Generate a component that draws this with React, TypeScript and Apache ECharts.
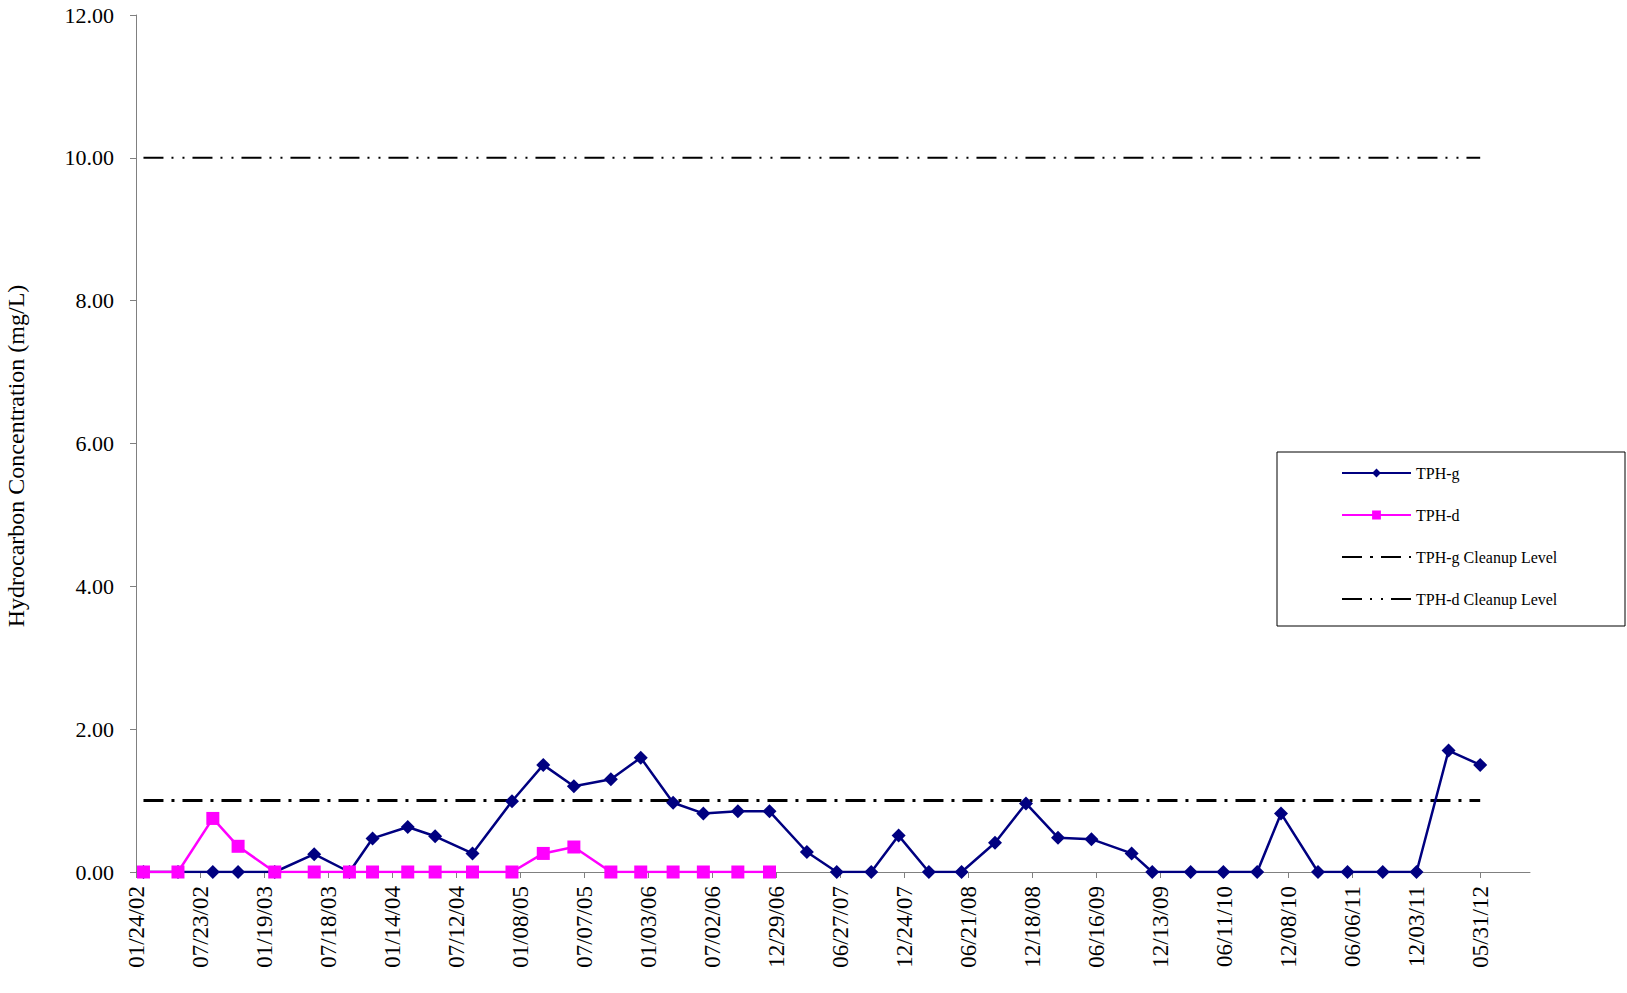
import React, { useEffect, useRef } from "react";
import * as echarts from "echarts";

// Sampling dates (MM/DD/YY)
const sampleDates = [
  "02/14/02", "05/22/02", "08/28/02", "11/07/02", "02/18/03", "06/09/03", "09/16/03",
  "11/20/03", "02/27/04", "05/14/04", "08/27/04", "12/16/04", "03/14/05", "06/08/05",
  "09/20/05", "12/13/05", "03/14/06", "06/07/06", "09/12/06", "12/10/06", "03/25/07",
  "06/17/07", "09/22/07", "12/08/07", "03/02/08", "06/02/08", "09/04/08", "11/30/08",
  "02/28/09", "06/02/09", "09/23/09", "11/20/09", "03/08/10", "06/08/10", "09/11/10",
  "11/17/10", "03/01/11", "05/23/11", "08/30/11", "12/03/11", "03/02/12", "05/30/12",
];

// TPH-g (mg/L), one per sampling date
const tphG = [
  0, 0, 0, 0, 0, 0.25, 0, 0.47, 0.63, 0.5, 0.26, 0.99, 1.5, 1.2,
  1.3, 1.6, 0.97, 0.82, 0.85, 0.85, 0.28, 0, 0, 0.51, 0, 0, 0.41, 0.96,
  0.48, 0.46, 0.26, 0, 0, 0, 0, 0.82, 0, 0, 0, 0, 1.7, 1.5,
];

// TPH-d (mg/L), first 20 sampling dates only
const tphD = [
  0, 0, 0.75, 0.36, 0, 0, 0, 0, 0, 0, 0, 0, 0.26, 0.35, 0, 0, 0, 0, 0, 0,
];

const tphGCleanupLevel = 1.0;
const tphDCleanupLevel = 10.0;

// X-axis tick labels (every 180 days)
const xTickLabels = [
  "01/24/02", "07/23/02", "01/19/03", "07/18/03", "01/14/04", "07/12/04", "01/08/05",
  "07/07/05", "01/03/06", "07/02/06", "12/29/06", "06/27/07", "12/24/07", "06/21/08",
  "12/18/08", "06/16/09", "12/13/09", "06/11/10", "12/08/10", "06/06/11", "12/03/11",
  "05/31/12",
];
const xAxisEndDate = "10/17/12";

const yTicks = [0, 2, 4, 6, 8, 10, 12];

const FONT = "'Liberation Serif', 'Times New Roman', serif";

function dateMs(s: string): number {
  const [m, d, y] = s.split("/").map(Number);
  return Date.UTC(2000 + y, m - 1, d);
}
const baseMs = dateMs(xTickLabels[0]);
function toDays(s: string): number {
  return Math.round((dateMs(s) - baseMs) / 86400000);
}

export default function App() {
  const ref = useRef<HTMLDivElement>(null);

  useEffect(() => {
    if (!ref.current) return;
    const chart = echarts.init(ref.current, undefined, { renderer: "svg" });

    const tickDays = xTickLabels.map(toDays);
    const gData = sampleDates.map((d, i) => [toDays(d), tphG[i]]);
    const dData = tphD.map((v, i) => [toDays(sampleDates[i]), v]);
    const firstDay = toDays(sampleDates[0]);
    const lastDay = toDays(sampleDates[sampleDates.length - 1]);

    chart.setOption({
      animation: false,
      backgroundColor: "#ffffff",
      grid: { left: 136, right: 97, top: 15, bottom: 121, containLabel: false },
      xAxis: {
        type: "value",
        min: 0,
        max: toDays(xAxisEndDate),
        splitLine: { show: false },
        axisLine: { show: true, lineStyle: { color: "#808080", width: 1 } },
        axisTick: {
          show: true,
          inside: false,
          length: 6,
          customValues: tickDays,
          lineStyle: { color: "#808080" },
        },
        axisLabel: {
          customValues: tickDays,
          rotate: 90,
          margin: 14,
          fontFamily: FONT,
          fontSize: 23,
          color: "#000",
          formatter: (v: number) => {
            const i = tickDays.indexOf(Math.round(v));
            return i >= 0 ? xTickLabels[i] : "";
          },
        },
      },
      yAxis: {
        type: "value",
        min: yTicks[0],
        max: yTicks[yTicks.length - 1],
        interval: 2,
        splitLine: { show: false },
        axisLine: { show: true, lineStyle: { color: "#808080", width: 1 } },
        axisTick: { show: true, inside: false, length: 6, lineStyle: { color: "#808080" } },
        axisLabel: {
          margin: 22,
          fontFamily: FONT,
          fontSize: 22,
          color: "#000",
          formatter: (v: number) => v.toFixed(2),
        },
      },
      legend: {
        orient: "vertical",
        left: 1341,
        top: 465,
        padding: 0,
        itemWidth: 69,
        itemHeight: 11,
        itemGap: 26,
        textStyle: { fontFamily: FONT, fontSize: 16, color: "#000" },
        data: [
          "TPH-g",
          "TPH-d",
          { name: "TPH-g Cleanup Level", itemStyle: { opacity: 0 } },
          { name: "TPH-d Cleanup Level", itemStyle: { opacity: 0 } },
        ],
      },
      graphic: [
        {
          type: "rect",
          shape: { x: 1277, y: 452, width: 348, height: 174 },
          style: { fill: "none", stroke: "#000", lineWidth: 1 },
          z: 0,
        },
        {
          type: "text",
          x: 16,
          y: 456,
          rotation: Math.PI / 2,
          style: {
            text: "Hydrocarbon Concentration (mg/L)",
            fontFamily: FONT,
            fontSize: 24,
            fill: "#000",
            align: "center",
            verticalAlign: "middle",
          },
        },
      ],
      series: [
        {
          name: "TPH-g Cleanup Level",
          type: "line",
          data: [
            [firstDay, tphGCleanupLevel],
            [lastDay, tphGCleanupLevel],
          ],
          symbol: "none",
          lineStyle: { color: "#000", width: 3, type: [20, 8, 3, 8] },
          itemStyle: { color: "#000" },
          z: 1,
        },
        {
          name: "TPH-d Cleanup Level",
          type: "line",
          data: [
            [firstDay, tphDCleanupLevel],
            [lastDay, tphDCleanupLevel],
          ],
          symbol: "none",
          lineStyle: { color: "#000", width: 2, type: [20, 8, 2, 9, 2, 8] },
          itemStyle: { color: "#000" },
          z: 1,
        },
        {
          name: "TPH-g",
          type: "line",
          data: gData,
          symbol: "diamond",
          symbolSize: 14,
          lineStyle: { color: "#000080", width: 2.5 },
          itemStyle: { color: "#000080" },
          z: 3,
        },
        {
          name: "TPH-d",
          type: "line",
          data: dData,
          symbol: "rect",
          symbolSize: 13,
          lineStyle: { color: "#FF00FF", width: 2.5 },
          itemStyle: { color: "#FF00FF" },
          z: 4,
        },
      ],
    });

    return () => chart.dispose();
  }, []);

  return (
    <div
      ref={ref}
      style={{ position: "fixed", left: 0, top: 0, width: 1627, height: 993, background: "#fff" }}
    />
  );
}
